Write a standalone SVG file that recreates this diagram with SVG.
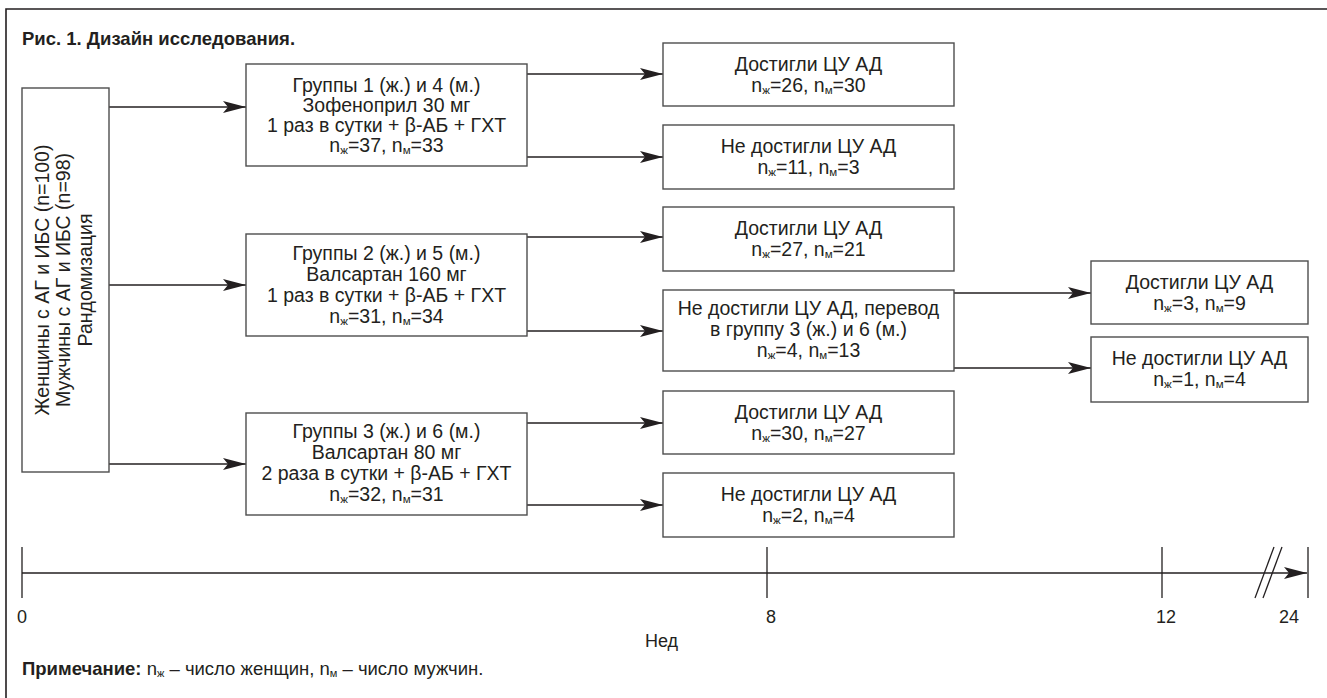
<svg xmlns="http://www.w3.org/2000/svg" width="1327" height="698" viewBox="0 0 1327 698">
<style>
text{font-family:"Liberation Sans",Arial,sans-serif;fill:#231f20}
.t{font-size:19.5px;text-anchor:middle}
.sub{font-size:11.5px}
.box{fill:#fff;stroke:#4d4d4d;stroke-width:1.4}
.ln{stroke:#231f20;stroke-width:1.3;fill:none}
.tick{stroke:#231f20;stroke-width:1.3}
.ax{font-size:18px;text-anchor:middle}
</style>
<defs>
<marker id="ah" markerUnits="userSpaceOnUse" markerWidth="24" markerHeight="14" refX="23" refY="6" orient="auto" viewBox="0 0 24 12">
<path d="M0,0 L23,6 L0,12 L5,6 Z" fill="#231f20"/>
</marker>
</defs>
<rect width="1327" height="698" fill="#fff"/>
<path d="M6,698 V9 H1327" fill="none" stroke="#231f20" stroke-width="1.6"/>
<text x="22" y="45" style="font-size:18.5px;font-weight:bold">Рис. 1. Дизайн исследования.</text>

<g id="connectors">
<line class="ln" x1="109" y1="107" x2="246" y2="107" marker-end="url(#ah)"/>
<line class="ln" x1="109" y1="285" x2="246" y2="285" marker-end="url(#ah)"/>
<line class="ln" x1="109" y1="464" x2="246" y2="464" marker-end="url(#ah)"/>
<line class="ln" x1="527" y1="74" x2="663" y2="74" marker-end="url(#ah)"/>
<line class="ln" x1="527" y1="157" x2="663" y2="157" marker-end="url(#ah)"/>
<line class="ln" x1="527" y1="237" x2="663" y2="237" marker-end="url(#ah)"/>
<line class="ln" x1="527" y1="331" x2="663" y2="331" marker-end="url(#ah)"/>
<line class="ln" x1="527" y1="423" x2="663" y2="423" marker-end="url(#ah)"/>
<line class="ln" x1="527" y1="505" x2="663" y2="505" marker-end="url(#ah)"/>
<line class="ln" x1="954" y1="293" x2="1091" y2="293" marker-end="url(#ah)"/>
<line class="ln" x1="954" y1="368" x2="1091" y2="368" marker-end="url(#ah)"/>
</g>

<g id="start">
<rect class="box" x="22" y="88" width="87" height="384"/>
<g transform="translate(65.5,280) rotate(-90)">
<text class="t" x="0" y="-17">Женщины с АГ и ИБС (n=100)</text>
<text class="t" x="0" y="4">Мужчины с АГ и ИБС (n=98)</text>
<text class="t" x="0" y="26">Рандомизация</text>
</g>
</g>

<g id="group1">
<rect class="box" x="246" y="64" width="281" height="102"/>
<text class="t" x="386.5" y="92">Группы 1 (ж.) и 4 (м.)</text>
<text class="t" x="386.5" y="112">Зофеноприл 30 мг</text>
<text class="t" x="386.5" y="132">1 раз в сутки + β-АБ + ГХТ</text>
<text class="t" x="386.5" y="152">n<tspan class="sub" dy="2">ж</tspan><tspan dy="-2">=37, n</tspan><tspan class="sub" dy="2">м</tspan><tspan dy="-2">=33</tspan></text>
</g>

<g id="group2">
<rect class="box" x="246" y="234" width="281" height="102"/>
<text class="t" x="386.5" y="260">Группы 2 (ж.) и 5 (м.)</text>
<text class="t" x="386.5" y="281">Валсартан 160 мг</text>
<text class="t" x="386.5" y="302">1 раз в сутки + β-АБ + ГХТ</text>
<text class="t" x="386.5" y="323">n<tspan class="sub" dy="2">ж</tspan><tspan dy="-2">=31, n</tspan><tspan class="sub" dy="2">м</tspan><tspan dy="-2">=34</tspan></text>
</g>

<g id="group3">
<rect class="box" x="246" y="413" width="281" height="102"/>
<text class="t" x="386.5" y="438">Группы 3 (ж.) и 6 (м.)</text>
<text class="t" x="386.5" y="459">Валсартан 80 мг</text>
<text class="t" x="386.5" y="480">2 раза в сутки + β-АБ + ГХТ</text>
<text class="t" x="386.5" y="501">n<tspan class="sub" dy="2">ж</tspan><tspan dy="-2">=32, n</tspan><tspan class="sub" dy="2">м</tspan><tspan dy="-2">=31</tspan></text>
</g>

<g id="out1a">
<rect class="box" x="663" y="43" width="291" height="63"/>
<text class="t" x="808.5" y="71">Достигли ЦУ АД</text>
<text class="t" x="808.5" y="92">n<tspan class="sub" dy="2">ж</tspan><tspan dy="-2">=26, n</tspan><tspan class="sub" dy="2">м</tspan><tspan dy="-2">=30</tspan></text>
</g>
<g id="out1b">
<rect class="box" x="663" y="125" width="291" height="64"/>
<text class="t" x="808.5" y="153">Не достигли ЦУ АД</text>
<text class="t" x="808.5" y="174">n<tspan class="sub" dy="2">ж</tspan><tspan dy="-2">=11, n</tspan><tspan class="sub" dy="2">м</tspan><tspan dy="-2">=3</tspan></text>
</g>
<g id="out2a">
<rect class="box" x="663" y="207" width="291" height="64"/>
<text class="t" x="808.5" y="235">Достигли ЦУ АД</text>
<text class="t" x="808.5" y="256">n<tspan class="sub" dy="2">ж</tspan><tspan dy="-2">=27, n</tspan><tspan class="sub" dy="2">м</tspan><tspan dy="-2">=21</tspan></text>
</g>
<g id="out2b">
<rect class="box" x="663" y="290" width="291" height="81"/>
<text class="t" x="808.5" y="315">Не достигли ЦУ АД, перевод</text>
<text class="t" x="808.5" y="336">в группу 3 (ж.) и 6 (м.)</text>
<text class="t" x="808.5" y="357">n<tspan class="sub" dy="2">ж</tspan><tspan dy="-2">=4, n</tspan><tspan class="sub" dy="2">м</tspan><tspan dy="-2">=13</tspan></text>
</g>
<g id="out3a">
<rect class="box" x="663" y="391" width="291" height="63"/>
<text class="t" x="808.5" y="419">Достигли ЦУ АД</text>
<text class="t" x="808.5" y="440">n<tspan class="sub" dy="2">ж</tspan><tspan dy="-2">=30, n</tspan><tspan class="sub" dy="2">м</tspan><tspan dy="-2">=27</tspan></text>
</g>
<g id="out3b">
<rect class="box" x="663" y="473" width="291" height="64"/>
<text class="t" x="808.5" y="501">Не достигли ЦУ АД</text>
<text class="t" x="808.5" y="522">n<tspan class="sub" dy="2">ж</tspan><tspan dy="-2">=2, n</tspan><tspan class="sub" dy="2">м</tspan><tspan dy="-2">=4</tspan></text>
</g>
<g id="out4a">
<rect class="box" x="1091" y="261" width="217" height="63"/>
<text class="t" x="1199.5" y="289">Достигли ЦУ АД</text>
<text class="t" x="1199.5" y="310">n<tspan class="sub" dy="2">ж</tspan><tspan dy="-2">=3, n</tspan><tspan class="sub" dy="2">м</tspan><tspan dy="-2">=9</tspan></text>
</g>
<g id="out4b">
<rect class="box" x="1091" y="337" width="217" height="65"/>
<text class="t" x="1199.5" y="365">Не достигли ЦУ АД</text>
<text class="t" x="1199.5" y="386">n<tspan class="sub" dy="2">ж</tspan><tspan dy="-2">=1, n</tspan><tspan class="sub" dy="2">м</tspan><tspan dy="-2">=4</tspan></text>
</g>

<g id="timeline">
<line class="ln" x1="22" y1="573" x2="1307" y2="573" marker-end="url(#ah)"/>
<line class="tick" x1="22" y1="547" x2="22" y2="598"/>
<line class="tick" x1="767" y1="547" x2="767" y2="598"/>
<line class="tick" x1="1162" y1="547" x2="1162" y2="598"/>
<line class="tick" x1="1308" y1="547" x2="1308" y2="598"/>
<line class="tick" x1="1255" y1="598" x2="1274" y2="547"/>
<line class="tick" x1="1263" y1="598" x2="1282" y2="547"/>
<text class="ax" x="22" y="623">0</text>
<text class="ax" x="771" y="623">8</text>
<text class="ax" x="1166" y="623">12</text>
<text class="ax" x="1289" y="623">24</text>
<text class="ax" x="661.5" y="647">Нед</text>
</g>

<text x="22" y="675" style="font-size:18.5px"><tspan font-weight="bold">Примечание:</tspan> n<tspan font-size="11" dy="2">ж</tspan><tspan dy="-2"> – число женщин, n</tspan><tspan font-size="11" dy="2">м</tspan><tspan dy="-2"> – число мужчин.</tspan></text>
</svg>
